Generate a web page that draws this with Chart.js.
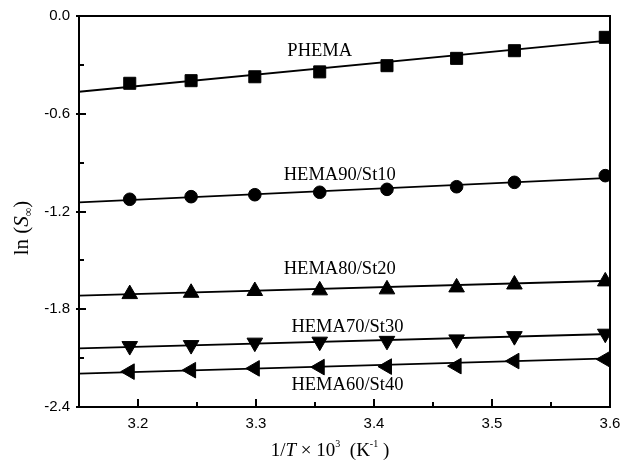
<!DOCTYPE html>
<html>
<head>
<meta charset="utf-8">
<title>ln(S) vs 1/T</title>
<script src="https://cdn.jsdelivr.net/npm/chart.js@4.4.1/dist/chart.umd.min.js"></script>
<style>
  html, body { margin: 0; padding: 0; background: #fff; }
  #wrap { width: 620px; height: 461px; }
</style>
</head>
<body>
<div id="wrap"><canvas id="lnChart" width="620" height="461"></canvas></div>
<script>
'use strict';

// 1/T x 10^3 (K^-1)
var invT = [3.193, 3.245, 3.299, 3.354, 3.411, 3.470, 3.519, 3.596];

// ln(S_inf) measured
var phema  = [-0.413, -0.397, -0.373, -0.343, -0.305, -0.260, -0.213, -0.131];
var hema90 = [-1.125, -1.109, -1.097, -1.082, -1.064, -1.048, -1.021, -0.980];
var hema80 = [-1.707, -1.699, -1.688, -1.684, -1.678, -1.666, -1.648, -1.629];
var hema70 = [-2.026, -2.020, -2.005, -1.999, -1.994, -1.985, -1.965, -1.950];
var hema60 = [-2.183, -2.174, -2.163, -2.155, -2.152, -2.149, -2.118, -2.107];

// fitted lines (end points)
var fitX      = [3.15, 3.6];
var phemaFit  = [-0.465, -0.150];
var hema90Fit = [-1.144, -0.993];
var hema80Fit = [-1.716, -1.625];
var hema70Fit = [-2.040, -1.952];
var hema60Fit = [-2.195, -2.101];

var seriesNames = ['PHEMA', 'HEMA90/St10', 'HEMA80/St20', 'HEMA70/St30', 'HEMA60/St40'];

// tick values
var xTicks = [3.2, 3.3, 3.4, 3.5, 3.6];
var xMinor = [3.25, 3.35, 3.45, 3.55];
var yTicks = [-2.4, -1.8, -1.2, -0.6, 0.0];
var yMinor = [-2.1, -1.5, -0.9, -0.3];

// where the series names sit (data units)
var nameX = [3.354, 3.371, 3.371, 3.3775, 3.3775];
var nameY = [-0.215, -0.976, -1.553, -1.909, -2.265];

function pts(xs, ys) {
    return xs.map(function (x, i) { return { x: x, y: ys[i] }; });
}

var markers = [
    { data: phema,  style: 'rect',     r: 8.5, rot: 0 },
    { data: hema90, style: 'circle',   r: 6.3, rot: 0 },
    { data: hema80, style: 'triangle', r: 9,   rot: 0 },
    { data: hema70, style: 'triangle', r: 9,   rot: 180 },
    { data: hema60, style: 'triangle', r: 9,   rot: 270 }
];
var fits = [phemaFit, hema90Fit, hema80Fit, hema70Fit, hema60Fit];

var datasets = [];
fits.forEach(function (f, i) {
    datasets.push({
        label: seriesNames[i] + ' fit',
        data: pts(fitX, f),
        showLine: true,
        borderColor: '#000',
        borderWidth: 1.8,
        pointRadius: 0,
        clip: 0
    });
});
markers.forEach(function (m, i) {
    datasets.push({
        label: seriesNames[i],
        data: pts(invT, m.data),
        showLine: false,
        pointStyle: m.style,
        pointRadius: m.r,
        pointRotation: m.rot,
        backgroundColor: '#000',
        borderColor: '#000',
        borderWidth: 1,
        clip: 0
    });
});

// frame, inward ticks, series names and axis titles
var decorations = {
    id: 'decorations',
    afterDatasetsDraw: function (chart) {
        var ctx = chart.ctx;
        var a = chart.chartArea;
        var xs = chart.scales.x, ys = chart.scales.y;
        ctx.save();
        ctx.strokeStyle = '#000';
        ctx.lineWidth = 2;
        ctx.beginPath();
        xTicks.forEach(function (v) {
            var px = Math.round(xs.getPixelForValue(v));
            ctx.moveTo(px, a.bottom); ctx.lineTo(px, a.bottom - 8);
        });
        xMinor.forEach(function (v) {
            var px = Math.round(xs.getPixelForValue(v));
            ctx.moveTo(px, a.bottom); ctx.lineTo(px, a.bottom - 5);
        });
        yTicks.forEach(function (v) {
            var py = Math.round(ys.getPixelForValue(v));
            ctx.moveTo(a.left - 3, py); ctx.lineTo(a.left + 7, py);
        });
        yMinor.forEach(function (v) {
            var py = Math.round(ys.getPixelForValue(v));
            ctx.moveTo(a.left, py); ctx.lineTo(a.left + 5, py);
        });
        ctx.stroke();
        ctx.strokeRect(a.left, a.top, a.right - a.left, a.bottom - a.top);
        ctx.restore();
    },
    afterDraw: function (chart) {
        var ctx = chart.ctx;
        var xs = chart.scales.x, ys = chart.scales.y;
        ctx.save();
        ctx.fillStyle = '#000';

        // series names
        ctx.font = '18.5px "Liberation Serif", "Times New Roman", serif';
        ctx.textAlign = 'center';
        ctx.textBaseline = 'middle';
        seriesNames.forEach(function (n, i) {
            ctx.fillText(n, xs.getPixelForValue(nameX[i]), ys.getPixelForValue(nameY[i]));
        });

        // x title: 1/T x 10^3 (K^-1)
        var serif = '"Liberation Serif", "Times New Roman", serif';
        var parts = [
            { t: '1/', f: '19px ' + serif, dy: 0 },
            { t: 'T', f: 'italic 19px ' + serif, dy: 0 },
            { t: ' \u00d7 10', f: '19px ' + serif, dy: 0 },
            { t: '3', f: '10px ' + serif, dy: -9 },
            { t: '  (K', f: '19px ' + serif, dy: 0 },
            { t: '-1', f: '10px ' + serif, dy: -9 },
            { t: ' )', f: '19px ' + serif, dy: 0 }
        ];
        drawRun(ctx, parts, 330, 456);

        // y title: ln (S_inf), rotated
        ctx.translate(28, 228);
        ctx.rotate(-Math.PI / 2);
        var yparts = [
            { t: 'ln (', f: '21px ' + serif, dy: 0 },
            { t: 'S', f: 'italic 21px ' + serif, dy: 0 },
            { t: '\u221e', f: '12px ' + serif, dy: 4 },
            { t: ')', f: '21px ' + serif, dy: 0 }
        ];
        drawRun(ctx, yparts, 0, 0);
        ctx.restore();
    }
};

function drawRun(ctx, parts, cx, baseY) {
    var total = 0;
    parts.forEach(function (p) { ctx.font = p.f; p.w = ctx.measureText(p.t).width; total += p.w; });
    var x = cx - total / 2;
    ctx.textAlign = 'left';
    ctx.textBaseline = 'alphabetic';
    parts.forEach(function (p) {
        ctx.font = p.f;
        ctx.fillText(p.t, x, baseY + p.dy);
        x += p.w;
    });
}

var tickFont = { family: '"Liberation Sans", Arial, sans-serif', size: 15 };

var lnChart = new Chart(document.getElementById('lnChart'), {
    type: 'scatter',
    data: { datasets: datasets },
    options: {
        responsive: false,
        animation: false,
        events: [],
        layout: { padding: { left: 0, right: 10, top: 16, bottom: 0 } },
        plugins: {
            legend: { display: false },
            tooltip: { enabled: false }
        },
        scales: {
            x: {
                type: 'linear',
                min: 3.15,
                max: 3.6,
                afterBuildTicks: function (s) { s.ticks = xTicks.map(function (v) { return { value: v }; }); },
                afterFit: function (s) { s.height = 54; s.paddingLeft = 0; s.paddingRight = 0; },
                grid: { display: false, drawTicks: false },
                border: { display: false },
                ticks: {
                    color: '#000',
                    font: tickFont,
                    padding: 8,
                    maxRotation: 0,
                    callback: function (v) { return v.toFixed(1); }
                }
            },
            y: {
                type: 'linear',
                min: -2.4,
                max: 0,
                afterBuildTicks: function (s) { s.ticks = yTicks.map(function (v) { return { value: v }; }); },
                afterFit: function (s) { s.width = 79; s.paddingTop = 0; s.paddingBottom = 0; },
                grid: { display: false, drawTicks: false },
                border: { display: false },
                ticks: {
                    color: '#000',
                    font: tickFont,
                    padding: 9,
                    callback: function (v) { return v.toFixed(1); }
                }
            }
        }
    },
    plugins: [decorations]
});
</script>
</body>
</html>
